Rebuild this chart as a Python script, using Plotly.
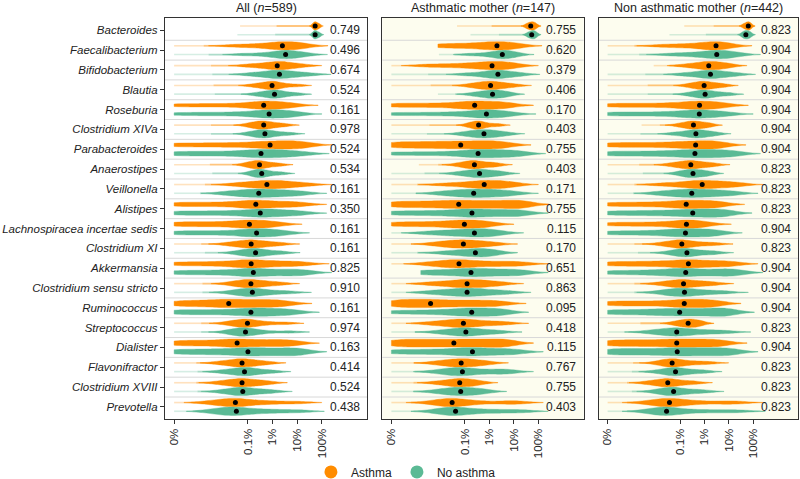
import numpy as np
import plotly.graph_objects as go

# ---------------- data ----------------
# Abundances are log10(relative abundance + 1e-6); -6 therefore means 0 %.
GENERA = ["Bacteroides", "Faecalibacterium", "Bifidobacterium", "Blautia", "Roseburia",
          "Clostridium XIVa", "Parabacteroides", "Anaerostipes", "Veillonella", "Alistipes",
          "Lachnospiracea incertae sedis", "Clostridium XI", "Akkermansia",
          "Clostridium sensu stricto", "Ruminococcus", "Streptococcus", "Dialister",
          "Flavonifractor", "Clostridium XVIII", "Prevotella"]

TICK_VALUES = [-6, -3, -2, -1, 0]
TICK_LABELS = ["0%", "0.1%", "1%", "10%", "100%"]

PANEL_TITLES = ["All (<i>n</i>=589)", "Asthmatic mother (<i>n</i>=147)",
                "Non asthmatic mother (<i>n</i>=442)"]

P_ALL = ["0.749", "0.496", "0.674", "0.524", "0.161", "0.978", "0.524", "0.534", "0.161", "0.350",
         "0.161", "0.161", "0.825", "0.910", "0.161", "0.974", "0.163", "0.414", "0.524", "0.438"]
P_AM = ["0.755", "0.620", "0.379", "0.406", "0.170", "0.403", "0.755", "0.403", "0.171", "0.755",
        "0.115", "0.170", "0.651", "0.863", "0.095", "0.418", "0.115", "0.767", "0.755", "0.403"]
P_NAM = ["0.823", "0.904", "0.904", "0.904", "0.904", "0.904", "0.904", "0.823", "0.823", "0.823",
         "0.904", "0.823", "0.904", "0.904", "0.904", "0.823", "0.904", "0.823", "0.823", "0.823"]

# start of the sparse low-abundance tail (None: violin is dense right from its lowest value)
ALL_A_TAIL = [-3.32, -6, -6, -6, None, -6, None, -6, -6, None, None, -6, None, -6, None, -6, None, -6, -6, -6]
ALL_N_TAIL = [-3.43, -6, -6, -6, None, -6, None, -6, -6, None, None, -6, None, -6, None, -6, None, -6, -6, -6]
AM_A_TAIL = [-3.32, None, -6, -6, None, -6, None, -4.88, -6, None, None, -6, -6, -6, None, -6, None, -6, -6, -6]
AM_N_TAIL = [-2.77, -4.06, -6, -4.10, None, -6, None, -6, -6, None, -6, -6, None, -6, None, -6, None, -6, -6, -6]
NAM_A_TAIL = [-2.84, -6, -4.10, -6, None, -4.60, None, -6, -6, None, None, -6, None, -6, None, -6, None, -6, -6, -6]
NAM_N_TAIL = [-3.45, -6, -6, -6, None, -6, None, -6, -6, None, None, -6, None, -6, None, -6, None, -6, -6, -6]

ALL_A_MED = [-0.27, -1.60, -1.81, -2.02, -2.36, -2.36, -2.10, -2.53, -2.23, -2.68,
             -2.94, -2.87, -2.87, -2.88, -3.78, -3.02, -3.44, -3.24, -3.24, -3.51]
ALL_N_MED = [-0.27, -1.47, -1.72, -1.92, -2.14, -2.31, -2.47, -2.44, -2.56, -2.50,
             -2.65, -2.69, -2.78, -2.82, -2.88, -3.10, -3.00, -3.14, -3.21, -3.47]
AM_A_MED = [-0.31, -1.69, -1.89, -1.95, -2.60, -2.44, -3.17, -2.61, -2.21, -3.25,
            -3.02, -3.06, -3.24, -2.91, -4.40, -3.06, -3.45, -3.15, -3.21, -3.52]
AM_N_MED = [-0.27, -1.47, -1.65, -1.87, -2.12, -2.22, -2.46, -2.40, -2.64, -2.71,
            -2.61, -2.57, -2.75, -2.91, -2.72, -2.96, -2.69, -3.10, -3.17, -3.38]
NAM_A_MED = [-0.20, -1.53, -1.83, -2.02, -2.21, -2.46, -2.37, -2.57, -2.10, -2.76,
             -2.75, -2.94, -2.67, -2.87, -2.84, -2.68, -3.15, -3.34, -3.52, -3.45]
NAM_N_MED = [-0.30, -1.50, -1.76, -1.98, -2.22, -2.36, -2.40, -2.48, -2.53, -2.49,
             -2.79, -2.73, -2.78, -2.83, -3.03, -3.15, -3.13, -3.20, -3.28, -3.57]

ALL_A_BODY = [
    [-0.36, -0.31, -0.27, -0.22, -0.16, -0.08],
    [-3.6, -2.8, -2.2, -1.8, -1.6, -1.3, -1.0, -0.75],
    [-3.0, -2.4, -2.0, -1.81, -1.6, -1.3, -0.8],
    [-2.8, -2.4, -2.15, -2.02, -1.85, -1.6, -1.0],
    [-6, -5.3, -4.6, -3.9, -3.3, -2.8, -2.5, -2.36, -2.1, -1.8, -1.5, -1.15],
    [-3.0, -2.7, -2.5, -2.36, -2.2, -1.9, -1.5],
    [-6, -5.2, -4.4, -3.7, -3.0, -2.5, -2.1, -1.7, -1.3, -1.0, -0.6],
    [-3.1, -2.85, -2.65, -2.53, -2.4, -2.1, -1.7],
    [-3.5, -2.9, -2.5, -2.23, -1.9, -1.6, -1.2, -0.6],
    [-6, -5.3, -4.6, -3.9, -3.3, -2.9, -2.68, -2.3, -1.8, -1.3, -0.8],
    [-6, -5.4, -4.8, -4.2, -3.6, -3.2, -2.94, -2.6, -2.2, -1.8],
    [-3.8, -3.3, -3.0, -2.87, -2.6, -2.2, -1.7],
    [-6, -5.3, -4.6, -4.0, -3.5, -3.1, -2.87, -2.6, -2.2, -1.7, -1.2, -0.7],
    [-3.7, -3.3, -3.0, -2.88, -2.6, -2.2, -1.7],
    [-6, -5.5, -5.0, -4.5, -4.1, -3.78, -3.4, -3.0, -2.6, -2.2, -1.8, -1.4],
    [-3.8, -3.4, -3.15, -3.02, -2.8, -2.3, -1.5],
    [-6, -5.4, -4.8, -4.2, -3.7, -3.44, -3.0, -2.5, -2.0, -1.5, -1.1],
    [-4.2, -3.7, -3.4, -3.24, -3.0, -2.7, -2.2],
    [-4.2, -3.7, -3.4, -3.24, -3.0, -2.6, -2.2],
    [-4.6, -4.0, -3.7, -3.51, -3.2, -2.7, -2.0, -1.0],
]
ALL_N_BODY = [
    [-0.36, -0.31, -0.27, -0.22, -0.15, -0.07],
    [-3.2, -2.4, -1.9, -1.6, -1.47, -1.3, -1.0, -0.6],
    [-2.9, -2.3, -1.95, -1.72, -1.5, -1.1, -0.5],
    [-2.7, -2.3, -2.05, -1.92, -1.75, -1.5, -1.0],
    [-6, -5.2, -4.5, -3.8, -3.2, -2.7, -2.4, -2.14, -1.9, -1.6, -1.3, -1.0],
    [-3.0, -2.65, -2.45, -2.31, -2.15, -1.8, -1.3],
    [-6, -5.3, -4.6, -3.9, -3.3, -2.8, -2.47, -2.1, -1.7, -1.3, -0.7],
    [-2.9, -2.7, -2.55, -2.44, -2.3, -2.0, -1.6],
    [-3.9, -3.3, -2.9, -2.56, -2.2, -1.8, -1.3, -0.8],
    [-6, -5.3, -4.6, -3.9, -3.3, -2.8, -2.5, -2.2, -1.8, -1.3, -0.8],
    [-6, -5.3, -4.6, -3.9, -3.3, -2.9, -2.65, -2.3, -1.9, -1.5],
    [-3.5, -3.1, -2.85, -2.69, -2.5, -2.1, -1.6],
    [-6, -5.3, -4.6, -4.0, -3.4, -3.0, -2.78, -2.4, -1.9, -1.4, -1.0, -0.6],
    [-3.7, -3.2, -2.95, -2.82, -2.5, -2.0, -1.3],
    [-6, -5.3, -4.6, -3.9, -3.3, -2.88, -2.5, -2.1, -1.6, -1.1],
    [-3.8, -3.45, -3.2, -3.10, -2.85, -2.3, -1.3],
    [-6, -5.3, -4.6, -4.0, -3.4, -3.0, -2.6, -2.1, -1.6, -1.1, -0.8],
    [-4.1, -3.6, -3.3, -3.14, -2.9, -2.6, -2.0],
    [-4.1, -3.6, -3.35, -3.21, -2.95, -2.5, -2.0],
    [-4.5, -4.0, -3.7, -3.47, -3.1, -2.5, -1.8, -0.9],
]
AM_A_BODY = [
    [-0.5, -0.4, -0.31, -0.24, -0.17, -0.1],
    [-4.1, -3.6, -3.1, -2.6, -2.2, -1.9, -1.69, -1.4, -1.1, -0.85],
    [-4.6, -3.8, -3.1, -2.6, -2.2, -1.89, -1.6, -1.3, -1.0],
    [-2.8, -2.4, -2.15, -1.95, -1.75, -1.45, -1.0],
    [-6, -5.3, -4.6, -3.9, -3.3, -2.9, -2.6, -2.3, -1.9, -1.5, -1.2],
    [-2.9, -2.65, -2.5, -2.44, -2.3, -2.0, -1.6],
    [-6, -5.4, -4.8, -4.2, -3.7, -3.17, -2.7, -2.2, -1.8, -1.3],
    [-3.3, -2.9, -2.7, -2.61, -2.4, -2.0, -1.7],
    [-3.9, -3.2, -2.7, -2.4, -2.21, -1.9, -1.6, -1.3, -1.0],
    [-6, -5.4, -4.8, -4.2, -3.7, -3.25, -2.8, -2.3, -1.8, -1.3, -0.8, -0.55],
    [-6, -5.4, -4.8, -4.2, -3.7, -3.3, -3.02, -2.7, -2.3, -2.0],
    [-4.2, -3.7, -3.3, -3.06, -2.8, -2.3, -1.85],
    [-4.5, -3.9, -3.5, -3.24, -2.9, -2.4, -1.8, -1.2, -0.6],
    [-4.4, -3.7, -3.2, -2.91, -2.6, -2.1, -1.6],
    [-6, -5.6, -5.2, -4.8, -4.4, -4.0, -3.5, -3.0, -2.5, -2.0, -1.5],
    [-4.4, -3.7, -3.3, -3.06, -2.7, -2.1, -1.4],
    [-6, -5.5, -5.0, -4.5, -4.0, -3.45, -3.0, -2.5, -2.0, -1.5, -1.2],
    [-4.2, -3.7, -3.35, -3.15, -2.9, -2.5, -2.1],
    [-4.2, -3.7, -3.4, -3.21, -3.0, -2.7, -2.4],
    [-4.4, -3.9, -3.65, -3.52, -3.3, -2.9, -2.3, -1.3, -0.8],
]
AM_N_BODY = [
    [-0.45, -0.36, -0.27, -0.21, -0.15, -0.08],
    [-2.8, -2.2, -1.8, -1.6, -1.47, -1.3, -1.1, -0.85],
    [-3.0, -2.4, -2.0, -1.8, -1.65, -1.45, -1.1, -0.7],
    [-2.7, -2.3, -2.05, -1.87, -1.7, -1.45, -1.2],
    [-6, -5.2, -4.4, -3.7, -3.1, -2.6, -2.3, -2.12, -1.8, -1.5, -1.1],
    [-3.1, -2.7, -2.4, -2.22, -2.0, -1.7, -1.3],
    [-6, -5.2, -4.4, -3.7, -3.1, -2.7, -2.46, -2.1, -1.8, -1.4, -1.0, -0.7],
    [-3.3, -2.85, -2.55, -2.40, -2.2, -1.8, -1.5],
    [-4.0, -3.4, -3.0, -2.64, -2.3, -1.9, -1.5, -1.0],
    [-6, -5.3, -4.6, -4.0, -3.4, -3.0, -2.71, -2.3, -1.9, -1.4, -0.9, -0.6],
    [-4.6, -3.9, -3.4, -3.0, -2.61, -2.3, -2.0, -1.6],
    [-3.9, -3.3, -2.9, -2.57, -2.3, -2.0, -1.85],
    [-4.8, -4.2, -3.6, -3.1, -2.75, -2.4, -2.0, -1.5, -1.0, -0.6],
    [-4.4, -3.7, -3.2, -2.91, -2.5, -2.0, -1.3],
    [-6, -5.2, -4.5, -3.9, -3.4, -3.0, -2.72, -2.4, -2.0, -1.6, -1.4],
    [-4.1, -3.5, -3.15, -2.96, -2.7, -2.2, -1.6],
    [-6, -5.3, -4.6, -4.0, -3.4, -3.0, -2.69, -2.3, -1.8, -1.3, -0.8],
    [-4.1, -3.6, -3.3, -3.10, -2.8, -2.2, -1.5, -1.2],
    [-4.2, -3.7, -3.4, -3.17, -2.9, -2.5, -2.2],
    [-4.2, -3.8, -3.5, -3.38, -3.1, -2.6, -2.0, -1.3, -0.6],
]
NAM_A_BODY = [
    [-0.42, -0.32, -0.25, -0.20, -0.14, -0.08],
    [-3.8, -3.1, -2.5, -2.0, -1.7, -1.53, -1.3, -1.05],
    [-2.8, -2.3, -2.0, -1.83, -1.6, -1.3, -1.0],
    [-2.7, -2.35, -2.15, -2.02, -1.85, -1.55, -1.2],
    [-6, -5.3, -4.6, -3.9, -3.3, -2.8, -2.45, -2.21, -1.9, -1.5, -1.2],
    [-3.1, -2.75, -2.55, -2.46, -2.3, -2.0, -1.8],
    [-6, -5.3, -4.6, -3.9, -3.3, -2.8, -2.37, -2.0, -1.6, -1.3],
    [-3.4, -3.0, -2.7, -2.57, -2.4, -2.0, -1.65],
    [-3.8, -3.1, -2.6, -2.3, -2.1, -1.8, -1.4, -1.0, -0.6],
    [-6, -5.3, -4.6, -4.0, -3.4, -3.0, -2.76, -2.4, -2.0, -1.6, -1.35],
    [-6, -5.4, -4.8, -4.2, -3.7, -3.2, -2.9, -2.75, -2.5, -2.2, -1.9],
    [-3.8, -3.3, -3.05, -2.94, -2.7, -2.2, -1.6],
    [-6, -5.3, -4.6, -4.0, -3.4, -2.95, -2.67, -2.3, -1.8, -1.3, -0.8],
    [-3.8, -3.3, -3.0, -2.87, -2.6, -2.1, -1.65],
    [-6, -5.4, -4.8, -4.2, -3.6, -3.1, -2.84, -2.5, -2.1, -1.7, -1.5],
    [-3.3, -3.0, -2.8, -2.68, -2.5, -2.3, -2.15],
    [-6, -5.4, -4.8, -4.2, -3.6, -3.15, -2.7, -2.2, -1.7, -1.25],
    [-3.9, -3.55, -3.4, -3.34, -3.15, -2.8, -2.3, -1.8],
    [-4.4, -3.9, -3.65, -3.52, -3.3, -2.9, -2.4],
    [-4.4, -3.9, -3.6, -3.45, -3.2, -2.8, -2.2, -1.3, -0.6],
]
NAM_N_BODY = [
    [-0.45, -0.38, -0.30, -0.24, -0.17, -0.1],
    [-3.4, -2.7, -2.1, -1.75, -1.5, -1.3, -1.0, -0.7],
    [-2.9, -2.3, -1.95, -1.76, -1.55, -1.2, -0.7],
    [-2.7, -2.3, -2.1, -1.98, -1.8, -1.45, -1.0],
    [-6, -5.3, -4.6, -3.9, -3.3, -2.8, -2.45, -2.22, -1.9, -1.5, -1.0],
    [-3.3, -2.8, -2.5, -2.36, -2.2, -1.9, -1.55],
    [-6, -5.3, -4.6, -3.9, -3.3, -2.8, -2.4, -2.0, -1.6, -1.1, -0.7],
    [-3.1, -2.8, -2.6, -2.48, -2.3, -2.0, -1.8],
    [-3.9, -3.3, -2.9, -2.53, -2.2, -1.8, -1.3, -0.8],
    [-6, -5.3, -4.6, -4.0, -3.4, -2.9, -2.49, -2.1, -1.7, -1.3, -1.05],
    [-6, -5.3, -4.6, -4.0, -3.5, -3.1, -2.79, -2.5, -2.1, -1.7, -1.45],
    [-3.5, -3.05, -2.85, -2.73, -2.5, -2.0, -1.55],
    [-6, -5.2, -4.5, -3.9, -3.4, -3.0, -2.78, -2.3, -1.8, -1.3, -0.9, -0.6],
    [-3.8, -3.3, -3.0, -2.83, -2.5, -1.9, -1.2],
    [-6, -5.3, -4.6, -4.0, -3.5, -3.03, -2.6, -2.1, -1.6, -1.2, -0.95],
    [-4.3, -3.7, -3.35, -3.15, -2.9, -2.4, -1.8, -1.1],
    [-6, -5.4, -4.8, -4.2, -3.6, -3.13, -2.7, -2.2, -1.7, -1.2, -0.8],
    [-4.0, -3.5, -3.3, -3.20, -2.95, -2.5, -2.0],
    [-4.0, -3.6, -3.4, -3.28, -3.0, -2.5, -2.0],
    [-4.4, -3.9, -3.7, -3.57, -3.3, -2.8, -2.1, -1.3, -0.5],
]

# ---------------- style ----------------
ORANGE = "#ff8c00"
GREEN = "#5bba95"
PANEL_BG = ["#ffffff", "#fdfdef", "#fdfdef"]
FONT = "Liberation Sans, Arial, sans-serif"
VIOLIN_W = 0.42
OFFSET = 0.22
BW_MAX = 0.5
X_RANGE = [-6.37, 1.85]
DOMAINS = [[0.0, 0.3191], [0.3428, 0.6603], [0.6840, 0.9984]]

panels = [
    (PANEL_TITLES[0], P_ALL, (ALL_A_TAIL, ALL_A_BODY, ALL_A_MED), (ALL_N_TAIL, ALL_N_BODY, ALL_N_MED)),
    (PANEL_TITLES[1], P_AM, (AM_A_TAIL, AM_A_BODY, AM_A_MED), (AM_N_TAIL, AM_N_BODY, AM_N_MED)),
    (PANEL_TITLES[2], P_NAM, (NAM_A_TAIL, NAM_A_BODY, NAM_A_MED), (NAM_N_TAIL, NAM_N_BODY, NAM_N_MED)),
]


def bandwidth(v):
    q1, q3 = np.percentile(v, [25, 75])
    a = min(np.std(v, ddof=1), (q3 - q1) / 1.349)
    return float(min(1.059 * a * len(v) ** -0.2, BW_MAX))


fig = go.Figure()
shapes = []
annotations = []

for k, (title, pvals, grp_a, grp_n) in enumerate(panels):
    xa = "x" if k == 0 else f"x{k + 1}"
    ya = "y" if k == 0 else f"y{k + 1}"
    for (tails, bodies, meds), color, off in ((grp_a, ORANGE, -OFFSET), (grp_n, GREEN, OFFSET)):
        far_x, far_y, near_x, near_y = [], [], [], []
        for i, body in enumerate(bodies):
            v = np.asarray(body, dtype=float)
            bw = bandwidth(v)
            lo = v.min() if tails[i] is None else max(-6.0, v.min() - 2 * bw)
            hi = v.max() + 2 * bw
            fig.add_trace(go.Violin(
                x=v, y0=i + off, orientation="h", width=VIOLIN_W, side="both",
                bandwidth=bw, spanmode="manual", span=[lo, hi], scalemode="width",
                fillcolor=color, line=dict(color=color, width=0.4), opacity=1,
                points=False, box_visible=False, meanline_visible=False,
                hoverinfo="skip", showlegend=False, xaxis=xa, yaxis=ya))
            if tails[i] is not None:
                # sparse tail: fainter far part, stronger part near the violin body
                mid = (tails[i] + v.min()) / 2
                far_x += [tails[i], mid, None]
                far_y += [i + off, i + off, None]
                near_x += [mid, v.min(), None]
                near_y += [i + off, i + off, None]
        fig.add_trace(go.Scatter(x=far_x, y=far_y, mode="lines", line=dict(color=color, width=1.6),
                                 opacity=0.25, hoverinfo="skip", showlegend=False,
                                 xaxis=xa, yaxis=ya))
        fig.add_trace(go.Scatter(x=near_x, y=near_y, mode="lines", line=dict(color=color, width=1.8),
                                 opacity=0.5, hoverinfo="skip", showlegend=False,
                                 xaxis=xa, yaxis=ya))
        fig.add_trace(go.Scatter(x=meds, y=[i + off for i in range(len(meds))], mode="markers",
                                 marker=dict(color="black", size=5), hoverinfo="skip",
                                 showlegend=False, xaxis=xa, yaxis=ya))
    # background + separators
    shapes.append(dict(type="rect", xref=f"{xa} domain", yref=f"{ya} domain", x0=0, x1=1, y0=0, y1=1,
                       fillcolor=PANEL_BG[k], line=dict(width=0), layer="below"))
    for i in range(len(GENERA) - 1):
        shapes.append(dict(type="line", xref=f"{xa} domain", yref=ya, x0=0, x1=1, y0=i + 0.5, y1=i + 0.5,
                           line=dict(color="#d8d8d8", width=1), layer="below"))
    for i, p in enumerate(pvals):
        annotations.append(dict(text=p, xref=xa, yref=ya, x=1.64, y=i, xanchor="right",
                                yanchor="middle", showarrow=False,
                                font=dict(size=12, color="#222222", family=FONT)))
    annotations.append(dict(text=title, xref=f"{xa} domain", yref="paper", x=0.5, y=1.026,
                            xanchor="center", yanchor="middle", showarrow=False,
                            font=dict(size=12.5, color="#222222", family=FONT)))

# legend entries
fig.add_trace(go.Scatter(x=[None], y=[None], mode="markers", name="Asthma",
                         marker=dict(color=ORANGE, size=13)))
fig.add_trace(go.Scatter(x=[None], y=[None], mode="markers", name="No asthma",
                         marker=dict(color=GREEN, size=13)))

axis_common = dict(showline=True, linecolor="#333333", linewidth=1.3, mirror=True,
                   showgrid=False, zeroline=False, automargin=False)
layout = dict(
    width=800, height=479, margin=dict(l=165, r=1, t=18, b=60, autoexpand=False),
    paper_bgcolor="white", plot_bgcolor="rgba(0,0,0,0)",
    font=dict(family=FONT, size=12, color="#222222"),
    violinmode="overlay", shapes=shapes, annotations=annotations,
    showlegend=True,
    legend=dict(orientation="h", x=0.38, xanchor="center", y=-0.132, yanchor="middle",
                font=dict(size=12, family=FONT, color="#222222"), itemwidth=30,
                bgcolor="rgba(0,0,0,0)"),
)
for k in range(3):
    xn = "xaxis" if k == 0 else f"xaxis{k + 1}"
    yn = "yaxis" if k == 0 else f"yaxis{k + 1}"
    ya = "y" if k == 0 else f"y{k + 1}"
    xa = "x" if k == 0 else f"x{k + 1}"
    layout[xn] = dict(domain=DOMAINS[k], anchor=ya, range=X_RANGE, tickmode="array",
                      tickvals=TICK_VALUES, ticktext=TICK_LABELS, tickangle=-90,
                      ticks="outside", ticklen=4, tickcolor="#333333",
                      tickfont=dict(size=11.5, family=FONT, color="#222222"), **axis_common)
    ydict = dict(domain=[0, 1], anchor=xa, range=[19.61, -0.623], tickmode="array",
                 tickvals=list(range(len(GENERA))), **axis_common)
    if k == 0:
        ydict.update(ticktext=[f"<i>{g}</i>" for g in GENERA], ticks="outside", ticklen=4,
                     tickcolor="#333333", tickfont=dict(size=11.5, family=FONT, color="#222222"))
    else:
        ydict.update(showticklabels=False, ticks="")
    layout[yn] = ydict

fig.update_layout(**layout)
fig.write_html("out.html", config={"displayModeBar": False},
               post_script="document.body.style.margin='0';document.documentElement.style.margin='0';"
                           "document.body.style.overflow='hidden';")
